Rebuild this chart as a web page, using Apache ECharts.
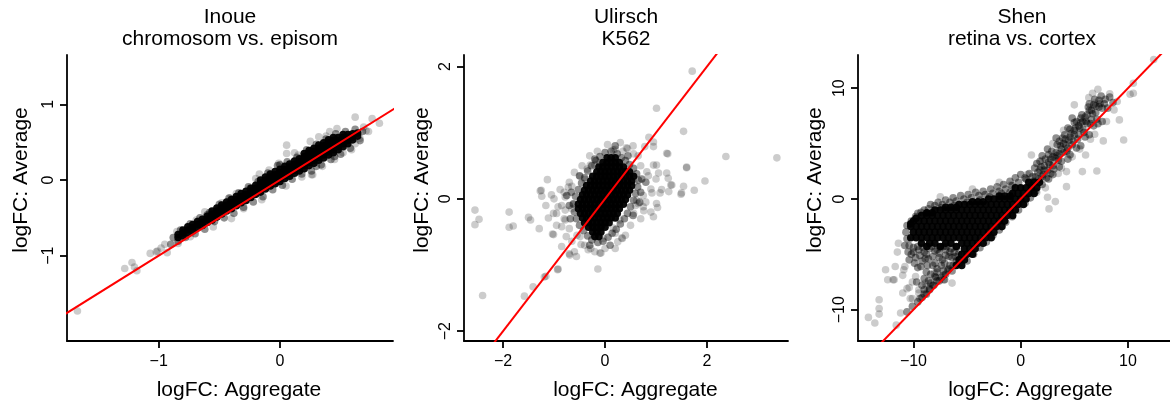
<!DOCTYPE html>
<html>
<head>
<meta charset="utf-8">
<script src="https://cdn.jsdelivr.net/npm/echarts@6/dist/echarts.min.js"></script>
<style>
  html, body { margin: 0; padding: 0; background: #ffffff; }
  #chart { width: 1170px; height: 406px; }
</style>
</head>
<body>
<div id="chart"></div>
<script>
// ---- Inoue: chromosom vs. episom ----
// isolated genes (single light dots)
const inoueSparse = [
  [-1.67,-1.73],[-1.28,-1.17],[-1.22,-1.09],[-1.20,-1.15],[-1.18,-1.20],[-1.07,-0.97],
  [-1.01,-0.94],[-0.98,-0.90],[-0.95,-0.85],[-0.93,-0.96],[-1.02,-0.95],[-0.85,-0.68],
  [-0.84,-0.84],[-0.74,-0.75],[-0.69,-0.53],[-0.58,-0.46],[-0.41,-0.24],[-0.36,-0.18],
  [-0.40,-0.51],[-0.25,-0.11],[-0.17,0.08],[-0.09,0.13],[-0.01,0.22],[0.055,0.46],
  [0.055,0.35],[0.12,0.36],[0.25,0.51],[0.32,0.57],[0.41,0.64],[0.47,0.68],[0.62,0.83],
  [0.76,0.81],[0.82,0.75],[0.73,0.64],[0.71,0.65],[0.59,0.40],[0.62,0.48],[0.26,0.07],
  [0.18,0.04],[0.27,0.07],[-0.55,-0.62],[-0.30,-0.38],[-0.15,-0.26],[0.05,-0.08],
  [0.35,0.18],[0.45,0.27],[0.52,0.36],[0.66,0.55],[0.69,0.70],[-0.62,-0.42],[-0.48,-0.30],
  [-0.20,0.02],[0.15,0.33],[0.38,0.58]
];
// band edges (a few genes overlapping)
const inoueMid = [
  [-0.90,-0.85],[-0.88,-0.76],[-0.84,-0.81],[-0.82,-0.66],[-0.78,-0.76],[-0.74,-0.58],
  [-0.70,-0.71],[-0.66,-0.50],[-0.62,-0.65],[-0.58,-0.43],[-0.54,-0.55],[-0.50,-0.32],
  [-0.46,-0.50],[-0.42,-0.24],[-0.38,-0.44],[-0.34,-0.17],[-0.30,-0.36],[-0.26,-0.09],
  [-0.22,-0.29],[-0.18,-0.02],[-0.14,-0.22],[-0.10,0.09],[-0.06,-0.13],[-0.02,0.19],
  [0.02,-0.07],[0.06,0.24],[0.10,0.01],[0.14,0.30],[0.18,0.08],[0.22,0.40],[0.26,0.12],
  [0.30,0.47],[0.34,0.20],[0.38,0.54],[0.42,0.27],[0.46,0.61],[0.50,0.34],[0.54,0.64],
  [0.58,0.42],[0.62,0.67],[0.66,0.52],[0.68,0.64],[-0.60,-0.46],[0.00,0.20],[0.30,0.18],
  [0.45,0.31]
];
// dense core of the band, one column per Aggregate value: [x, [y, ...]]
const inoueDenseCols = [
  [-0.84, [-0.76,-0.72]],
  [-0.80, [-0.74,-0.70,-0.66]],
  [-0.76, [-0.70,-0.66,-0.62]],
  [-0.72, [-0.67,-0.63,-0.59]],
  [-0.68, [-0.63,-0.59,-0.55]],
  [-0.64, [-0.60,-0.56,-0.52]],
  [-0.60, [-0.56,-0.52,-0.48]],
  [-0.56, [-0.53,-0.49,-0.45,-0.41]],
  [-0.52, [-0.49,-0.45,-0.41,-0.37]],
  [-0.48, [-0.45,-0.41,-0.37,-0.33]],
  [-0.44, [-0.41,-0.37,-0.33,-0.29]],
  [-0.40, [-0.38,-0.34,-0.30,-0.26]],
  [-0.36, [-0.34,-0.30,-0.26,-0.22]],
  [-0.32, [-0.30,-0.26,-0.22,-0.18]],
  [-0.28, [-0.27,-0.23,-0.19,-0.15]],
  [-0.24, [-0.23,-0.19,-0.15,-0.11]],
  [-0.20, [-0.19,-0.15,-0.11,-0.07]],
  [-0.16, [-0.16,-0.12,-0.08,-0.04,0.00]],
  [-0.12, [-0.12,-0.08,-0.04,0.00,0.04]],
  [-0.08, [-0.08,-0.04,0.00,0.04,0.08]],
  [-0.04, [-0.05,-0.01,0.03,0.07,0.11]],
  [0.00, [-0.02,0.02,0.06,0.10,0.14]],
  [0.04, [0.02,0.06,0.10,0.14,0.18]],
  [0.08, [0.05,0.09,0.13,0.17,0.21]],
  [0.12, [0.09,0.13,0.17,0.21,0.25]],
  [0.16, [0.12,0.16,0.20,0.24,0.28]],
  [0.20, [0.15,0.19,0.23,0.27,0.31,0.35]],
  [0.24, [0.19,0.23,0.27,0.31,0.35,0.39]],
  [0.28, [0.22,0.26,0.30,0.34,0.38,0.42]],
  [0.32, [0.26,0.30,0.34,0.38,0.42,0.46]],
  [0.36, [0.29,0.33,0.37,0.41,0.45,0.49]],
  [0.40, [0.33,0.37,0.41,0.45,0.49,0.53]],
  [0.44, [0.36,0.40,0.44,0.48,0.52,0.56]],
  [0.48, [0.40,0.44,0.48,0.52,0.56]],
  [0.52, [0.44,0.48,0.52,0.56,0.60]],
  [0.56, [0.48,0.52,0.56,0.60]],
  [0.60, [0.53,0.57,0.61]],
  [0.64, [0.58,0.62]]
];

// ---- Ulirsch: K562 ----
const ulirschSparse = [
  [1.71,1.93],[1.01,1.37],[1.54,1.02],[2.37,0.64],[3.37,0.62],[0.86,0.93],[1.23,0.68],
  [1.60,0.47],[1.96,0.27],[1.75,0.13],[1.49,0.07],[1.25,0.11],[1.08,0.09],[1.01,-0.07],
  [1.03,-0.13],[1.29,0.21],[1.01,0.51],[1.21,0.39],[0.78,0.79],[-2.55,-0.17],[-2.47,-0.31],
  [-2.55,-0.39],[-2.40,-1.46],[-1.88,-0.20],[-1.88,-0.43],[-1.80,-0.41],[-1.50,-0.28],
  [-1.46,-0.32],[-1.29,-0.45],[-1.13,0.29],[-1.27,0.12],[-1.05,0.06],[-1.24,0.04],
  [-1.16,-0.10],[-1.11,-0.29],[-1.03,-0.53],[-0.85,-0.72],[-0.70,-0.83],[-0.56,-0.87],
  [-0.92,-1.06],[-1.19,-1.18],[-1.41,-1.33],[-1.58,-1.47],[-0.14,-1.06],[-0.10,-0.82],
  [-0.28,-0.75],[0.34,-0.60],[0.20,-0.52],[-0.03,-0.60],[-0.47,-0.69],[-0.76,-0.57],
  [0.57,0.25],[0.65,-0.07],[0.76,-0.18],[0.44,0.76],[0.20,0.75],[0.56,0.68],[0.95,0.79],
  [1.05,0.39],[0.92,0.09],[-0.20,0.51],[-0.39,0.29],[-0.65,0.19],[-0.78,0.03],[-0.92,-0.12],
  [-1.01,-0.22],[-0.78,-0.32],[-0.88,0.14],[-0.72,0.18],[-1.25,0.13],[-1.01,-0.54],
  [-0.69,-0.85],[-0.33,-0.77],[-0.08,-0.82],[-0.93,-1.07],[-1.16,-1.17],[0.33,-0.59],
  [0.95,-0.27],[1.24,0.31],[1.31,0.21],[1.54,0.19],[1.50,0.09],[1.11,0.14],[0.95,0.51],
  [1.21,0.69],[0.95,0.86],[0.42,0.77],[0.16,0.74],[1.60,0.48],[0.82,0.41],[0.75,-0.12],
  [0.62,-0.02],[0.56,-0.22],[0.29,-0.32],[0.16,-0.44],[-0.49,-0.57],[-0.65,-0.64],
  [-0.85,-0.42],[-0.95,-0.22],[-0.78,-0.17],[-0.62,-0.07],[-0.49,0.34],[-0.29,0.51],
  [-0.10,0.54],[0.70,0.50],[0.85,0.35],[0.90,0.15],[0.80,-0.05],[0.70,-0.30],[0.50,-0.40],
  [0.40,-0.55],[0.25,-0.65],[0.00,-0.75],[-0.20,-0.80],[-0.40,-0.70],[-0.55,-0.55],
  [-0.70,-0.45],[-0.80,-0.30],[-0.85,-0.10],[-0.80,0.10],[-0.70,0.25],[-0.60,0.40],
  [-0.45,0.50],[-0.30,0.65],[-0.15,0.72],[0.05,0.82],[0.30,0.85],[0.55,0.80],[0.65,0.65],
  [1.00,0.30],[0.90,-0.20],[-1.00,0.00],[-0.95,-0.40],[-0.60,-0.80],[0.20,-0.75],
  [0.75,0.05],[-0.35,0.45],[0.60,-0.10],[-0.65,-0.15],[0.35,0.72]
];
const ulirschMid = [
  [0.00,0.70],[0.12,0.72],[0.24,0.68],[0.32,0.62],[0.40,0.58],[0.48,0.52],[0.56,0.46],
  [0.62,0.38],[0.66,0.28],[0.64,0.18],[0.60,0.08],[0.56,-0.02],[0.50,-0.12],[0.44,-0.22],
  [0.38,-0.30],[0.30,-0.38],[0.22,-0.46],[0.14,-0.52],[0.06,-0.58],[-0.04,-0.64],
  [-0.14,-0.66],[-0.26,-0.62],[-0.34,-0.56],[-0.42,-0.48],[-0.50,-0.40],[-0.56,-0.30],
  [-0.60,-0.20],[-0.62,-0.08],[-0.58,0.04],[-0.52,0.14],[-0.46,0.24],[-0.40,0.32],
  [-0.34,0.42],[-0.26,0.50],[-0.18,0.58],[-0.10,0.64],[0.72,0.30],[0.70,0.10],[0.68,-0.05],
  [-0.70,-0.10],[-0.68,-0.30],[-0.66,0.10],[0.20,0.80],[-0.30,-0.70],[0.45,0.65],
  [-0.50,0.35],[0.55,-0.25],[-0.20,0.60],[0.10,-0.70],[-0.75,0.05],[0.80,0.25]
];
// dense core, one row per Average level: [y, [x, ...]]
const ulirschDenseRows = [
  [0.62, [0.04,0.12,0.20]],
  [0.55, [-0.04,0.04,0.12,0.20,0.28]],
  [0.48, [-0.12,-0.04,0.04,0.12,0.20,0.28,0.36]],
  [0.41, [-0.16,-0.08,0.00,0.08,0.16,0.24,0.32,0.40,0.48]],
  [0.34, [-0.24,-0.16,-0.08,0.00,0.08,0.16,0.24,0.32,0.40,0.48,0.56]],
  [0.27, [-0.28,-0.20,-0.12,-0.04,0.04,0.12,0.20,0.28,0.36,0.44,0.52]],
  [0.20, [-0.36,-0.28,-0.20,-0.12,-0.04,0.04,0.12,0.20,0.28,0.36,0.44,0.52]],
  [0.13, [-0.40,-0.32,-0.24,-0.16,-0.08,0.00,0.08,0.16,0.24,0.32,0.40,0.48]],
  [0.06, [-0.44,-0.36,-0.28,-0.20,-0.12,-0.04,0.04,0.12,0.20,0.28,0.36,0.44]],
  [-0.01, [-0.48,-0.40,-0.32,-0.24,-0.16,-0.08,0.00,0.08,0.16,0.24,0.32,0.40]],
  [-0.08, [-0.52,-0.44,-0.36,-0.28,-0.20,-0.12,-0.04,0.04,0.12,0.20,0.28,0.36]],
  [-0.15, [-0.52,-0.44,-0.36,-0.28,-0.20,-0.12,-0.04,0.04,0.12,0.20,0.28]],
  [-0.22, [-0.48,-0.40,-0.32,-0.24,-0.16,-0.08,0.00,0.08,0.16,0.24]],
  [-0.29, [-0.44,-0.36,-0.28,-0.20,-0.12,-0.04,0.04,0.12,0.20]],
  [-0.36, [-0.40,-0.32,-0.24,-0.16,-0.08,0.00,0.08]],
  [-0.43, [-0.32,-0.24,-0.16,-0.08,0.00]],
  [-0.50, [-0.24,-0.16,-0.08]],
  [-0.57, [-0.20,-0.12]]
];

// ---- Shen: retina vs. cortex ----
const shenSparse = [
  [-14.2,-10.7],[-13.6,-11.2],[-13.2,-9.1],[-13.2,-9.9],[-13.2,-10.4],[-11.2,-10.3],
  [-11.6,-11.4],[-12.6,-6.4],[-11.7,-6.1],[-12.4,-7.3],[-11.8,-7.3],[-11.4,-4.0],
  [-11.5,-4.8],[-10.8,-6.1],[-11.0,-6.9],[-10.6,-8.1],[-10.1,-7.5],[-10.1,-9.0],
  [-9.5,-8.2],[-8.9,-7.6],[-11.0,-8.5],[-10.4,-8.0],[-10.3,-9.0],[-10.9,-6.4],[-9.8,-7.0],
  [-9.5,-8.5],[-8.8,-7.9],[-8.05,-6.7],[-7.2,-7.3],[-6.4,-7.6],[-11.9,-7.3],
  [0.6,2.2],[1.0,3.97],[-0.93,1.26],[2.64,-0.9],[3.23,-0.24],[2.5,0.15],[4.27,1.11],
  [4.27,2.47],[5.75,2.47],[6.05,3.97],[7.1,2.53],[6.9,5.84],[7.7,5.24],[9.6,5.33],
  [9.2,7.14],[8.7,8.04],[10.2,9.46],[10.5,10.45],[12.4,12.6],[7.2,9.9],[6.35,9.15],
  [6.7,9.55],[6.9,8.65],[5.0,8.5],[4.0,6.2],[3.0,5.0],[2.0,3.5],[1.5,0.6],[2.3,1.0],
  [3.5,2.3],[4.8,3.8],[5.5,4.5],[8.0,7.0],[8.3,9.5],[9.0,8.8],[3.8,2.8],[6.5,5.4],
  [10.5,9.55],[-4.5,0.9],[-7.5,0.2],[-2.0,1.5]
];
const shenMid = [
  [-9.8,-1.6],[-9.3,-1.2],[-8.6,-0.9],[-8.0,-0.6],[-7.3,-0.5],[-6.6,-0.3],[-6.0,-0.2],
  [-5.3,0.0],[-4.6,0.1],[-3.9,0.3],[-3.3,0.4],[-2.6,0.5],[-2.0,0.7],[-1.4,0.9],[-0.8,1.2],
  [-0.2,1.5],[0.4,1.9],[-10.6,-2.4],[-10.7,-3.0],[-10.6,-3.6],[-10.4,-4.2],[-10.0,-4.4],
  [-9.5,-4.6],[-9.0,-4.8],[-8.5,-4.5],[-8.0,-4.7],[-7.5,-4.4],[-7.0,-4.6],[-6.5,-4.5],
  [-9.8,-5.3],[-9.2,-5.6],[-8.6,-5.4],[-8.2,-6.0],[-7.6,-5.3],[-7.1,-5.8],[-6.8,-6.4],
  [-8.8,-6.6],[-8.0,-7.0],[-7.6,-7.4],[-8.5,-8.2],[-9.0,-8.6],[-9.4,-9.0],[-8.2,-7.8],
  [-7.2,-6.9],[-6.7,-5.2],[-6.2,-4.8],[-10.2,-5.0],[-9.6,-6.2],[-7.8,-6.3],
  [0.9,0.1],[0.4,-0.4],[-0.2,-1.0],[-0.8,-1.6],[-1.4,-2.1],[-2.0,-2.8],[-2.6,-3.3],
  [-3.2,-3.9],[-3.8,-4.4],[-4.4,-5.0],[-5.0,-5.6],[1.4,0.7],[2.0,1.3],[2.6,1.8],
  [-9.6,-9.3],[-9.2,-8.9],[-8.8,-8.6],[-8.5,-8.1],[-8.1,-7.8],[-7.8,-7.4],[-7.4,-7.1],
  [-7.0,-6.8],[-6.7,-6.3],[-6.3,-6.0],[-6.0,-5.6],[-6.6,-6.0],[-7.2,-6.5],[-7.9,-7.1],
  [-8.4,-7.6],[-9.0,-8.2],[-10.1,-9.7],[-10.6,-10.2],[-5.7,-5.8],[-6.4,-6.5],[-7.1,-7.3],
  [1.2,1.6],[1.6,2.4],[2.0,2.0],[2.2,3.0],[2.5,2.6],[2.8,3.6],[3.0,3.0],[3.3,4.2],
  [3.5,3.5],[3.7,4.8],[4.0,4.2],[4.2,5.4],[4.4,4.6],[4.7,5.9],[4.9,5.2],[5.1,6.4],
  [5.4,5.8],[5.6,6.9],[5.8,6.3],[6.0,7.4],[6.2,6.8],[6.4,8.0],[6.6,7.2],[6.8,8.5],
  [7.0,7.8],[7.3,8.9],[7.6,8.2],[7.9,9.0],[3.9,5.5],[5.0,6.9],[2.6,4.0],
  [0.5,1.8],[0.8,2.3],[1.1,2.0],[1.3,2.8],[1.7,1.8],[1.9,2.9],[2.1,2.2],[2.3,3.6],
  [2.4,1.9],[2.7,3.1],[2.9,4.3],[3.1,2.7],[3.2,3.7],[3.4,4.9],[3.6,4.1],[3.8,3.4],
  [4.0,5.0],[4.1,5.8],[4.3,4.3],[4.5,5.3],[4.6,6.3],[4.8,4.9],[5.0,5.8],[5.2,7.0],
  [5.3,5.4],[5.5,6.4],[5.7,7.6],[5.9,6.0],[6.1,7.0],[6.3,8.3],[6.5,6.8],[6.7,7.7],
  [6.9,9.0],[7.1,7.2],[7.3,8.3],[7.5,9.3],[7.8,8.6],[8.1,8.2],[8.3,9.2],[8.6,8.7],
  [1.5,3.2],[2.0,3.9],[3.0,2.2],[4.4,3.6],[5.6,4.8],[6.4,5.8],[7.6,7.0],[3.3,5.5],[4.8,7.3],
  [1.0,1.2],[1.4,2.0],[1.8,2.6],[2.2,2.6],[2.6,3.3],[3.0,3.8],[3.4,3.9],[3.8,4.5],
  [4.2,4.9],[4.6,5.6],[5.0,6.2],[5.4,6.6],[5.8,7.0],[6.2,7.6],[6.6,8.0],[7.0,8.4],
  [7.4,8.6],[2.8,2.3],[3.6,2.9],[4.6,4.0],[5.2,4.6],[6.0,5.6],[6.8,6.6],[7.2,6.8],
  [1.8,3.4],[2.5,4.5],[3.6,5.2],[4.4,6.4],[5.6,7.3],[6.4,8.6],
  [-10.2,-2.0],[-9.6,-1.3],[-9.0,-1.0],[-8.4,-0.5],[-7.7,-0.3],[-7.0,-0.1],[-6.3,0.1],
  [-5.6,0.3],[-4.9,0.4],[-4.2,0.6],[-3.5,0.7],[-2.8,0.9],[-2.2,1.1],[-1.6,1.3],[-1.0,1.6],
  [-0.5,1.9],[0.0,2.2],[-8.8,-1.3],[-7.4,-0.8],[-6.2,-0.6],[-5.0,-0.3],[-3.8,-0.1],
  [-2.9,0.2],[-1.8,0.5],[-1.0,0.6],
  [-10.0,-4.8],[-9.4,-5.1],[-8.8,-5.0],[-8.2,-5.2],[-7.6,-4.9],[-7.0,-5.1],[-6.4,-5.3],
  [-9.9,-5.8],[-9.3,-6.1],[-8.7,-6.0],[-8.0,-5.8],[-7.4,-6.0],[-9.0,-7.2],[-8.4,-6.8],
  [-7.8,-6.6],[-9.7,-7.5],[-9.2,-7.8],[-8.6,-7.4],[-10.4,-5.5],[-10.5,-4.8],[-10.8,-4.2],
  [-9.6,-4.3],[-8.3,-4.3],[-6.9,-4.3],[-6.0,-4.4],[-5.8,-5.0],
  [-9.1,-4.4],[-7.8,-4.6],[-7.2,-4.3],[-6.6,-4.8],[-8.9,-5.4],[-7.3,-5.5],[-6.1,-5.2]
];
// dense core, one row per Average level: [y, [x, ...]]
const shenDenseRows = [
  [1.5, [0.75,1.25,1.75]],
  [1.0, [-0.5,0.0,0.5,1.0,1.5]],
  [0.5, [-0.75,-0.25,0.25,0.75,1.25]],
  [0.25, [-2.0,-1.5,-1.0]],
  [0.0, [-3.0,-2.5,-2.0,-1.5,-1.0,-0.5,0.0,0.5]],
  [-0.25, [-4.5,-4.0,-3.5]],
  [-0.5, [-5.75,-5.25,-4.75,-4.25,-3.75,-3.25,-2.75,-2.25,-1.75,-1.25,-0.75,-0.25,0.25]],
  [-0.75, [-7.0,-6.5,-6.0]],
  [-1.0, [-8.0,-7.5,-7.0,-6.5,-6.0,-5.5,-5.0,-4.5,-4.0,-3.5,-3.0,-2.5,-2.0,-1.5,-1.0,-0.5]],
  [-1.25, [-8.75,-8.25]],
  [-1.5, [-9.25,-8.75,-8.25,-7.75,-7.25,-6.75,-6.25,-5.75,-5.25,-4.75,-4.25,-3.75,-3.25,-2.75,-2.25,-1.75,-1.25,-0.75]],
  [-1.75, [-9.75]],
  [-2.0, [-10.0,-9.5,-9.0,-8.5,-8.0,-7.5,-7.0,-6.5,-6.0,-5.5,-5.0,-4.5,-4.0,-3.5,-3.0,-2.5,-2.0,-1.5]],
  [-2.25, [-10.25]],
  [-2.5, [-10.25,-9.75,-9.25,-8.75,-8.25,-7.75,-7.25,-6.75,-6.25,-5.75,-5.25,-4.75,-4.25,-3.75,-3.25,-2.75,-2.25,-1.75]],
  [-3.0, [-10.0,-9.5,-9.0,-8.5,-8.0,-7.5,-7.0,-6.5,-6.0,-5.5,-5.0,-4.5,-4.0,-3.5,-3.0,-2.5]],
  [-3.5, [-10.25,-9.75,-9.25,-8.75,-8.25,-7.75,-7.25,-6.75,-6.25,-5.75,-5.25,-4.75,-4.25,-3.75,-3.25,-2.75]],
  [-4.0, [-9.25,-8.5,-8.0,-7.0,-6.5,-5.5,-5.0,-4.5,-4.0,-3.5]],
  [-4.3, [-8.75,-7.5,-6.0]],
  [-4.5, [-5.25,-4.75,-4.25]],
  [-5.0, [-5.5,-5.0,-4.5]],
  [-5.5, [-5.75,-5.25]],
  [-6.0, [-6.0,-5.5]]
];

// identity reference line y = x
const identityLine = [[-30,-30],[30,30]];

// tick positions
const inoueXTicks = [-1, 0], inoueYTicks = [-1, 0, 1];
const ulirschXTicks = [-2, 0, 2], ulirschYTicks = [-2, 0, 2];
const shenXTicks = [-10, 0, 10], shenYTicks = [-10, 0, 10];

const rowsToPoints = rows => rows.flatMap(([y, xs]) => xs.map(x => [x, y]));
const colsToPoints = cols => cols.flatMap(([x, ys]) => ys.map(y => [x, y]));

const panels = [
  { title: ['Inoue', 'chromosom vs. episom'], sparse: inoueSparse, mid: inoueMid, dense: colsToPoints(inoueDenseCols),
    xTicks: inoueXTicks, yTicks: inoueYTicks, xRange: [-1.756, 0.932], yRange: [-2.127, 1.651],
    grid: { left: 67, top: 55, width: 326, height: 286 }, titleX: 230, xNameX: 239, yNameX: 21 },
  { title: ['Ulirsch', 'K562'], sparse: ulirschSparse, mid: ulirschMid, dense: rowsToPoints(ulirschDenseRows),
    xTicks: ulirschXTicks, yTicks: ulirschYTicks, xRange: [-2.765, 3.588], yRange: [-2.148, 2.174],
    grid: { left: 464, top: 55, width: 324, height: 286 }, titleX: 626, xNameX: 635.5, yNameX: 422 },
  { title: ['Shen', 'retina vs. cortex'], sparse: shenSparse, mid: shenMid, dense: rowsToPoints(shenDenseRows),
    xTicks: shenXTicks, yTicks: shenYTicks, xRange: [-15.17, 13.92], yRange: [-12.83, 13.0],
    grid: { left: 858, top: 55, width: 327, height: 286 }, titleX: 1022, xNameX: 1030.5, yNameX: 815 }
];

const FONT = '"Liberation Sans", Arial, Helvetica, sans-serif';
const fmt = v => (v < 0 ? '\u2212' + Math.abs(v) : String(v));
const axisLineStyle = { color: '#000', width: 1.8 };
const centred = { textAlign: 'center', textVerticalAlign: 'middle', align: 'center', verticalAlign: 'middle' };

const grid = [], xAxis = [], yAxis = [], series = [], graphic = [];

panels.forEach((p, i) => {
  grid.push(Object.assign({ containLabel: false }, p.grid));
  xAxis.push({
    type: 'value', gridIndex: i, min: p.xRange[0], max: p.xRange[1],
    axisLine: { show: true, onZero: false, lineStyle: axisLineStyle },
    axisTick: { show: true, length: 7, customValues: p.xTicks, lineStyle: axisLineStyle },
    axisLabel: { customValues: p.xTicks, formatter: fmt, fontSize: 16, color: '#000',
                 fontFamily: FONT, margin: 13 },
    splitLine: { show: false }
  });
  yAxis.push({
    type: 'value', gridIndex: i, min: p.yRange[0], max: p.yRange[1],
    axisLine: { show: true, onZero: false, lineStyle: axisLineStyle },
    axisTick: { show: true, length: 7, customValues: p.yTicks, lineStyle: axisLineStyle },
    axisLabel: { customValues: p.yTicks, formatter: fmt, fontSize: 16, color: '#000',
                 fontFamily: FONT, margin: 10, rotate: 90 },
    splitLine: { show: false }
  });
  const layers = [[p.sparse, 0.2], [p.mid, 0.44], [p.dense, 0.96]];
  layers.forEach(([data, op], k) => {
    series.push({
      type: 'scatter', xAxisIndex: i, yAxisIndex: i, data: data,
      symbol: 'circle', symbolSize: 7.6, z: 2 + k,
      itemStyle: { color: '#000', opacity: op, borderWidth: 0 },
      emphasis: { disabled: true }, silent: true
    });
  });
  series.push({
    type: 'line', xAxisIndex: i, yAxisIndex: i, data: identityLine, clip: true,
    symbol: 'none', z: 10, silent: true,
    lineStyle: { color: '#ff0000', width: 2 }
  });

  // two-line title
  graphic.push({ type: 'text', x: p.titleX, y: 17, silent: true,
    style: Object.assign({ text: p.title[0], font: '21px ' + FONT, fill: '#000' }, centred) });
  graphic.push({ type: 'text', x: p.titleX, y: 39, silent: true,
    style: Object.assign({ text: p.title[1], font: '21px ' + FONT, fill: '#000' }, centred) });
  // axis names
  graphic.push({ type: 'text', x: p.xNameX, y: 390, silent: true,
    style: Object.assign({ text: 'logFC: Aggregate', font: '21px ' + FONT, fill: '#000' }, centred) });
  graphic.push({ type: 'text', x: p.yNameX, y: 180, rotation: Math.PI / 2, silent: true,
    style: Object.assign({ text: 'logFC: Average', font: '21px ' + FONT, fill: '#000' }, centred) });
});

const chart = echarts.init(document.getElementById('chart'), null, { renderer: 'canvas' });
chart.setOption({
  animation: false,
  backgroundColor: '#ffffff',
  grid, xAxis, yAxis, series, graphic
});
</script>
</body>
</html>
